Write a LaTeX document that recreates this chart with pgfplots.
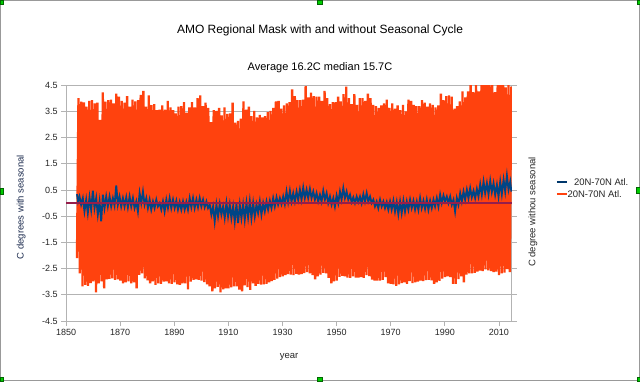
\documentclass[border=0pt]{standalone}
\usepackage{pgfplots}
\pgfplotsset{compat=1.18}
\usepackage{fontspec}
\setmainfont{Liberation Sans}
\definecolor{lored}{HTML}{FF420E}
\definecolor{loblue}{HTML}{004586}
\definecolor{gridgray}{HTML}{B3B3B3}
\definecolor{zeroline}{HTML}{961E4B}
\definecolor{handle}{HTML}{00CC00}
\begin{document}
\begin{tikzpicture}
\begin{scope}[x=1pt,y=1pt]
\useasboundingbox (0,0) rectangle (640,381);
\fill[white] (0,0) rectangle (640,381);
\draw[black!40, line width=1.2] (0.6,0.6) rectangle (639.4,380.4);
\end{scope}
\begin{axis}[
  at={(66pt,60pt)}, anchor=south west, scale only axis,
  width=446pt, height=236pt,
  xmin=1850, xmax=2014.8, ymin=-4.5, ymax=4.5,
  xtick={1850,1870,...,2010},
  ytick={-4.5,-3.5,-2.5,-1.5,-0.5,0.5,1.5,2.5,3.5,4.5},
  ymajorgrids, grid style={gridgray, line width=0.8pt},
  axis line style={gridgray, line width=0.8pt},
  tick align=outside, major tick length=5pt,
  tick style={gridgray, line width=0.8pt},
  xtick pos=bottom, ytick pos=both, yticklabel pos=left,
  /pgf/number format/assume math mode=true,
  ticklabel style={font=\fontsize{9}{11}\selectfont, text=black!85},
  xticklabel style={/pgf/number format/1000 sep={}},
  yticklabel style={/pgf/number format/.cd, fixed, fixed zerofill, precision=1},
]
\addplot[lored, line width=2.3pt, line join=bevel] coordinates {
(1854.0,-2.1)(1854.55,4.0)
(1855.05,-2.68)(1855.55,3.87)(1856.05,-3.18)(1856.55,3.84)(1857.05,-3.12)(1857.55,3.68)
(1858.05,-3.16)(1858.55,3.9)(1859.05,-3.05)(1859.55,3.93)(1860.05,-2.99)(1860.55,3.8)
(1861.05,-3.41)(1861.55,3.83)(1862.05,-3.06)(1862.55,3.17)(1863.05,-2.99)(1863.55,4.22)
(1864.05,-3.25)(1864.55,3.87)(1865.05,-2.91)(1865.55,3.93)(1866.05,-2.89)(1866.55,3.95)
(1867.05,-2.87)(1867.55,3.8)(1868.05,-2.93)(1868.55,4.18)(1869.05,-2.91)(1869.55,4.06)
(1870.05,-2.96)(1870.55,3.9)(1871.05,-3.06)(1871.55,3.83)(1872.05,-3.03)(1872.55,4.08)
(1873.05,-2.99)(1873.55,3.68)(1874.05,-3.06)(1874.55,3.95)(1875.05,-3.03)(1875.55,3.88)
(1876.05,-3.25)(1876.55,3.93)(1877.05,-2.74)(1877.55,4.13)(1878.05,-2.68)(1878.55,4.28)
(1879.05,-2.87)(1879.55,3.68)(1880.05,-2.95)(1880.55,4.11)(1881.05,-3.06)(1881.55,3.74)
(1882.05,-2.99)(1882.55,3.78)(1883.05,-3.12)(1883.55,3.55)(1884.05,-3.06)(1884.55,3.57)
(1885.05,-3.08)(1885.55,3.73)(1886.05,-3.0)(1886.55,3.57)(1887.05,-2.99)(1887.55,3.9)
(1888.05,-3.06)(1888.55,3.65)(1889.05,-3.08)(1889.55,3.55)(1890.05,-3.03)(1890.55,3.42)
(1891.05,-3.1)(1891.55,3.68)(1892.05,-3.12)(1892.55,3.7)(1893.05,-3.06)(1893.55,3.85)
(1894.05,-3.06)(1894.55,3.45)(1895.05,-3.29)(1895.55,3.65)(1896.05,-3.0)(1896.55,3.85)
(1897.05,-2.93)(1897.55,3.65)(1898.05,-2.91)(1898.55,4.0)(1899.05,-2.93)(1899.55,4.11)
(1900.05,-2.96)(1900.55,3.7)(1901.05,-3.02)(1901.55,3.83)(1902.05,-3.1)(1902.55,3.63)
(1903.05,-3.18)(1903.55,3.09)(1904.05,-3.37)(1904.55,3.55)(1905.05,-3.25)(1905.55,3.52)
(1906.05,-3.2)(1906.55,3.63)(1907.05,-3.41)(1907.55,3.35)(1908.05,-3.29)(1908.55,3.65)
(1909.05,-3.25)(1909.55,3.4)(1910.05,-3.25)(1910.55,3.42)(1911.05,-3.22)(1911.55,3.83)
(1912.05,-3.18)(1912.55,3.07)(1913.05,-3.18)(1913.55,3.14)(1914.05,-3.3)(1914.55,3.22)
(1915.05,-3.37)(1915.55,3.88)(1916.05,-3.14)(1916.55,3.57)(1917.05,-3.21)(1917.55,3.68)
(1918.05,-3.31)(1918.55,3.32)(1919.05,-3.06)(1919.55,3.52)(1920.05,-3.16)(1920.55,3.27)
(1921.05,-3.08)(1921.55,3.37)(1922.05,-3.11)(1922.55,3.27)(1923.05,-3.1)(1923.55,3.32)
(1924.05,-3.08)(1924.55,3.47)(1925.05,-3.03)(1925.55,3.52)(1926.05,-2.98)(1926.55,3.63)
(1927.05,-2.93)(1927.55,3.88)(1928.05,-2.88)(1928.55,3.9)(1929.05,-2.83)(1929.55,3.6)
(1930.05,-2.80)(1930.55,3.73)(1931.05,-2.75)(1931.55,3.8)(1932.05,-2.71)(1932.55,3.85)
(1933.05,-2.73)(1933.55,4.34)(1934.05,-2.75)(1934.55,4.08)(1935.05,-2.70)(1935.55,3.93)
(1936.05,-2.73)(1936.55,3.93)(1937.05,-2.71)(1937.55,3.95)(1938.05,-2.67)(1938.55,4.46)
(1939.05,-2.63)(1939.55,4.03)(1940.05,-2.68)(1940.55,4.21)(1941.05,-2.75)(1941.55,4.08)
(1942.05,-2.91)(1942.55,4.06)(1943.05,-2.80)(1943.55,4.06)(1944.05,-2.73)(1944.55,3.9)
(1945.05,-2.66)(1945.55,4.28)(1946.05,-2.68)(1946.55,4.0)(1947.05,-2.85)(1947.55,3.78)
(1948.05,-3.06)(1948.55,3.85)(1949.05,-2.99)(1949.55,3.85)(1950.05,-2.96)(1950.55,4.06)
(1951.05,-2.82)(1951.55,3.88)(1952.05,-2.78)(1952.55,4.16)(1953.05,-2.80)(1953.55,4.44)
(1954.05,-2.84)(1954.55,4.0)(1955.05,-2.85)(1955.55,3.78)(1956.05,-2.80)(1956.55,4.16)
(1957.05,-2.84)(1957.55,3.75)(1958.05,-2.84)(1958.55,4.0)(1959.05,-2.83)(1959.55,4.0)
(1960.05,-2.85)(1960.55,3.9)(1961.05,-2.75)(1961.55,4.18)(1962.05,-2.79)(1962.55,4.0)
(1963.05,-2.92)(1963.55,3.75)(1964.05,-2.96)(1964.55,3.7)(1965.05,-2.96)(1965.55,3.63)
(1966.05,-2.96)(1966.55,3.73)(1967.05,-2.93)(1967.55,3.8)(1968.05,-2.83)(1968.55,3.95)
(1969.05,-3.06)(1969.55,3.63)(1970.05,-3.08)(1970.55,3.8)(1971.05,-3.1)(1971.55,3.6)
(1972.05,-3.16)(1972.55,3.73)(1973.05,-3.10)(1973.55,3.55)(1974.05,-3.05)(1974.55,3.75)
(1975.05,-3.03)(1975.55,3.5)(1976.05,-3.08)(1976.55,3.95)(1977.05,-2.98)(1977.55,3.9)
(1978.05,-3.05)(1978.55,3.75)(1979.05,-3.03)(1979.55,3.7)(1980.05,-3.0)(1980.55,3.7)
(1981.05,-2.96)(1981.55,3.93)(1982.05,-2.98)(1982.55,3.83)(1983.05,-2.94)(1983.55,3.68)
(1984.05,-2.93)(1984.55,3.8)(1985.05,-2.95)(1985.55,3.75)(1986.05,-3.08)(1986.55,3.65)
(1987.05,-3.03)(1987.55,3.73)(1988.05,-2.97)(1988.55,4.18)(1989.05,-2.88)(1989.55,3.93)
(1990.05,-2.83)(1990.55,4.08)(1991.05,-2.80)(1991.55,4.11)(1992.05,-2.83)(1992.55,4.06)
(1993.05,-3.08)(1993.55,3.6)(1994.05,-3.08)(1994.55,3.7)(1995.05,-2.9)(1995.55,3.88)
(1996.05,-2.80)(1996.55,4.26)(1997.05,-3.03)(1997.55,4.03)(1998.05,-2.73)(1998.55,4.26)
(1999.05,-2.68)(1999.55,4.6)(2000.05,-2.68)(2000.55,4.23)(2001.05,-2.66)(2001.55,4.6)
(2002.05,-2.62)(2002.55,4.26)(2003.05,-2.58)(2003.55,4.6)(2004.05,-2.60)(2004.55,4.6)
(2005.05,-2.53)(2005.55,4.6)(2006.05,-2.57)(2006.55,4.6)(2007.05,-2.60)(2007.55,4.6)
(2008.05,-2.63)(2008.55,4.23)(2009.05,-2.62)(2009.55,4.6)(2010.05,-2.75)(2010.55,4.5)
(2011.05,-2.68)(2011.55,4.5)(2012.05,-2.65)(2012.55,4.41)(2013.05,-2.52)(2013.55,4.5)
(2014.05,-2.63)(2014.55,4.44)
};
\addplot[loblue, line width=1.8pt] coordinates {
(1854.0,0.34)(1854.4,0.06)(1854.94,0.25)(1855.54,-0.06)(1856.17,0.19)(1856.77,-0.32)
(1857.41,0.13)(1858.01,-0.38)(1858.64,0.22)(1859.24,-0.25)(1859.88,0.47)(1860.48,-0.19)
(1861.11,0.19)(1861.71,-0.44)(1862.35,0.06)(1862.95,-0.70)(1863.58,0.32)(1864.18,-0.19)
(1864.81,0.25)(1865.41,-0.13)(1866.05,0.25)(1866.65,-0.13)(1867.28,0.19)(1867.88,-0.09)
(1868.52,0.67)(1869.12,-0.06)(1869.75,0.25)(1870.35,-0.13)(1870.99,0.19)(1871.59,-0.13)
(1872.22,0.22)(1872.82,-0.16)(1873.46,0.25)(1874.06,-0.13)(1874.69,0.19)(1875.29,-0.19)
(1875.93,0.06)(1876.53,-0.32)(1877.16,0.38)(1877.76,0.0)(1878.40,0.44)(1879.00,-0.06)
(1879.63,0.19)(1880.23,-0.19)(1880.86,0.13)(1881.46,-0.25)(1882.10,0.06)(1882.70,-0.19)
(1883.33,0.13)(1883.93,-0.13)(1884.57,0.0)(1885.17,-0.25)(1885.80,0.06)(1886.40,-0.32)
(1887.04,0.13)(1887.64,-0.19)(1888.27,0.19)(1888.87,-0.19)(1889.51,0.13)(1890.11,-0.19)
(1890.74,0.09)(1891.34,-0.25)(1891.98,0.04)(1892.58,-0.25)(1893.21,0.06)(1893.81,-0.25)
(1894.44,0.04)(1895.04,-0.25)(1895.68,0.19)(1896.28,-0.16)(1896.91,0.19)(1897.51,-0.19)
(1898.15,0.13)(1898.75,-0.16)(1899.38,0.19)(1899.98,-0.13)(1900.62,0.13)(1901.22,-0.16)
(1901.85,0.06)(1902.45,-0.19)(1903.09,-0.06)(1903.69,-0.44)(1904.32,-0.13)(1904.92,-0.70)
(1905.56,-0.06)(1906.16,-0.51)(1906.79,-0.04)(1907.39,-0.44)(1908.02,-0.13)(1908.62,-0.57)
(1909.26,0.0)(1909.86,-0.51)(1910.49,-0.06)(1911.09,-0.57)(1911.73,-0.13)(1912.33,-0.70)
(1912.96,-0.04)(1913.56,-0.76)(1914.20,-0.06)(1914.80,-0.57)(1915.43,-0.06)(1916.03,-0.63)
(1916.67,0.0)(1917.27,-0.54)(1917.90,0.06)(1918.50,-0.57)(1919.14,0.0)(1919.74,-0.51)
(1920.37,-0.06)(1920.97,-0.38)(1921.60,0.06)(1922.20,-0.44)(1922.84,0.0)(1923.44,-0.32)
(1924.07,0.06)(1924.67,-0.25)(1925.31,0.09)(1925.91,-0.19)(1926.54,0.19)(1927.14,-0.13)
(1927.78,0.22)(1928.38,-0.06)(1929.01,0.19)(1929.61,-0.04)(1930.25,0.25)(1930.85,-0.04)
(1931.48,0.44)(1932.08,0.04)(1932.72,0.47)(1933.32,0.06)(1933.95,0.38)(1934.55,0.06)
(1935.19,0.44)(1935.79,0.13)(1936.42,0.51)(1937.02,0.13)(1937.65,0.59)(1938.25,0.19)
(1938.89,0.51)(1939.49,0.19)(1940.12,0.54)(1940.72,0.19)(1941.36,0.44)(1941.96,0.13)
(1942.59,0.38)(1943.19,0.06)(1943.83,0.32)(1944.43,0.06)(1945.06,0.47)(1945.66,0.13)
(1946.30,0.38)(1946.90,0.0)(1947.53,0.25)(1948.13,-0.06)(1948.77,0.19)(1949.37,-0.13)
(1950.00,0.29)(1950.60,0.0)(1951.23,0.44)(1951.83,0.13)(1952.47,0.57)(1953.07,0.19)
(1953.70,0.44)(1954.30,0.13)(1954.94,0.32)(1955.54,0.04)(1956.17,0.22)(1956.77,0.0)
(1957.41,0.25)(1958.01,0.04)(1958.64,0.25)(1959.24,0.0)(1959.88,0.34)(1960.48,0.06)
(1961.11,0.38)(1961.71,0.06)(1962.35,0.25)(1962.95,0.0)(1963.58,0.13)(1964.18,-0.13)
(1964.81,0.06)(1965.41,-0.19)(1966.05,0.13)(1966.65,-0.13)(1967.28,0.06)(1967.88,-0.19)
(1968.52,0.04)(1969.12,-0.25)(1969.75,0.06)(1970.35,-0.25)(1970.99,0.09)(1971.59,-0.32)
(1972.22,0.04)(1972.82,-0.42)(1973.46,0.06)(1974.06,-0.38)(1974.69,0.09)(1975.29,-0.32)
(1975.93,0.06)(1976.53,-0.25)(1977.16,0.13)(1977.76,-0.19)(1978.40,0.09)(1979.00,-0.25)
(1979.63,0.06)(1980.23,-0.25)(1980.86,0.19)(1981.46,-0.19)(1982.10,0.09)(1982.70,-0.22)
(1983.33,0.13)(1983.93,-0.25)(1984.57,0.09)(1985.17,-0.19)(1985.80,0.13)(1986.40,-0.13)
(1987.04,0.19)(1987.64,-0.13)(1988.27,0.32)(1988.87,0.0)(1989.51,0.29)(1990.11,0.06)
(1990.74,0.25)(1991.34,0.0)(1991.98,0.25)(1992.58,-0.06)(1993.21,0.13)(1993.81,-0.32)
(1994.44,0.19)(1995.04,-0.06)(1995.68,0.38)(1996.28,0.06)(1996.91,0.44)(1997.51,0.13)
(1998.15,0.51)(1998.75,0.19)(1999.38,0.57)(1999.98,0.22)(2000.62,0.47)(2001.22,0.19)
(2001.85,0.54)(2002.45,0.25)(2003.09,0.72)(2003.69,0.32)(2004.32,0.82)(2004.92,0.38)
(2005.56,0.76)(2006.16,0.34)(2006.79,0.85)(2007.39,0.42)(2008.02,0.76)(2008.62,0.32)
(2009.26,0.70)(2009.86,0.25)(2010.49,0.82)(2011.09,0.34)(2011.73,0.89)(2012.33,0.44)
(2012.96,1.05)(2013.56,0.51)(2014.20,0.82)(2014.6,0.44)
};
\addplot[zeroline, line width=1.2pt] coordinates {(1850,0) (2014.8,0)};
\end{axis}
\begin{scope}[x=1pt,y=1pt]
% titles and labels
\node[anchor=base, font=\fontsize{12}{14}\selectfont] at (320,347.5) {AMO Regional Mask with and without Seasonal Cycle};
\node[anchor=base, font=\fontsize{11}{13}\selectfont] at (320,311) {Average 16.2C median 15.7C};
\node[font=\fontsize{9.5}{11}\selectfont, text=black!85] at (289,24) {year};
\node[rotate=90, font=\fontsize{9.5}{11}\selectfont, text={rgb,255:red,30;green,45;blue,80}] at (21,174) {C degrees with seasonal};
\node[rotate=90, font=\fontsize{9.5}{11}\selectfont, text=black!85] at (533,169) {C degree withou seasonal};
% legend
\draw[loblue!80!black, line width=1.6pt] (557,199) -- (567,199);
\node[anchor=west, inner sep=0pt, font=\fontsize{9.5}{11}\selectfont, text=black!85] at (574,199) {20N-70N Atl.};
\draw[lored, line width=1.6pt] (557,187) -- (567,187);
\node[anchor=west, inner sep=0pt, font=\fontsize{9.5}{11}\selectfont, text=black!85] at (567.5,187) {20N-70N Atl.};
% selection handles
\foreach \hx/\hy/\hw/\hh in {0/377/3/4, 317.5/377/5/4, 637/377/3/4, 0/187/3/6, 636.5/188/3.5/6, 0/0/3/4, 317.5/0/5/4, 637/0/3/4}
  \filldraw[fill=handle, draw=black!60!green, line width=0.4pt] (\hx,\hy) rectangle ++(\hw,\hh);
\end{scope}
\end{tikzpicture}
\end{document}
